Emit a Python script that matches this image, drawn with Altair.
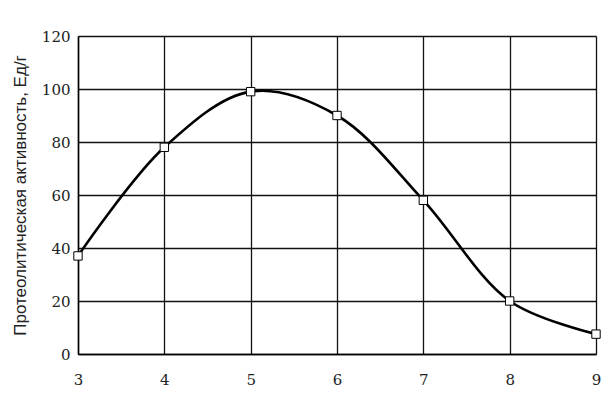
import altair as alt
import pandas as pd

ph = [3, 4, 5, 6, 7, 8, 9]
activity = [37, 78, 99, 90, 58, 20, 7.5]
y_title = "Протеолитическая активность, Ед/г"

df = pd.DataFrame({"ph": ph, "act": activity})

SERIF = "DejaVu Serif"

x = alt.X("ph:Q", scale=alt.Scale(domain=[3, 9], nice=False),
          axis=alt.Axis(values=ph, title=None, labelPadding=18, labelFontSize=15,
                        labelFont=SERIF, labelColor="#222", ticks=False,
                        domainColor="black", domainWidth=1.5, gridColor="#111",
                        gridWidth=1.3, gridOpacity=1, labelFlush=False))
y = alt.Y("act:Q", scale=alt.Scale(domain=[0, 120], nice=False),
          axis=alt.Axis(values=[0, 20, 40, 60, 80, 100, 120], title=y_title,
                        titleFont="Liberation Sans", titleFontSize=17,
                        titleFontWeight="normal",
                        titleColor="#222", titlePadding=12, labelPadding=8, labelFontSize=15,
                        labelFont=SERIF, labelColor="#222", ticks=False,
                        domainColor="black", domainWidth=1.5, gridColor="#111",
                        gridWidth=1.3, gridOpacity=1))

line = alt.Chart(df).mark_line(color="black", strokeWidth=2.6, interpolate="catmull-rom").encode(x=x, y=y)
pts = alt.Chart(df).mark_point(shape="square", size=70, filled=True, fill="white",
                               stroke="black", strokeWidth=1, opacity=1).encode(x=x, y=y)

chart = (line + pts).properties(
    width=518, height=318,
    autosize=alt.AutoSizeParams(type="none"),
    padding={"left": 70, "top": 28, "right": 10, "bottom": 50},
).configure_view(stroke="black", strokeWidth=1.3).configure(background="white")

chart.save("out.html", embed_options={"renderer": "svg", "actions": False})
